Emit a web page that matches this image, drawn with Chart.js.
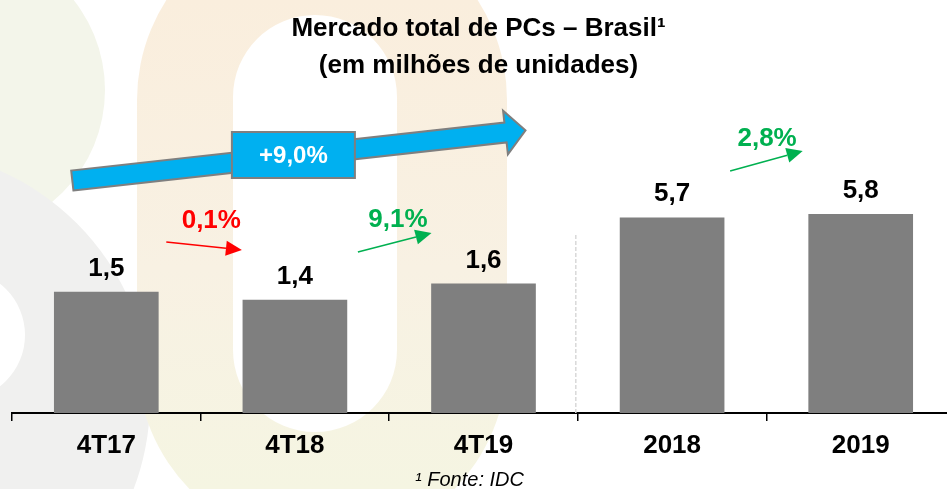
<!DOCTYPE html>
<html>
<head>
<meta charset="utf-8">
<script src="https://cdn.jsdelivr.net/npm/chart.js@4.4.1/dist/chart.umd.min.js"></script>
<style>
  html, body { margin: 0; padding: 0; overflow: hidden; background: #fff; }
  #wrap { width: 960px; height: 489px; position: relative; }
</style>
</head>
<body>
<div id="wrap"><canvas id="grafico"></canvas></div>
<script>
const categorias = ['4T17', '4T18', '4T19', '2018', '2019'];
const trimestrais = [1.5, 1.4, 1.6, null, null];
const anuais = [null, null, null, 5.7, 5.8];
const variacoes = ['0,1%', '9,1%', '2,8%'];
const crescimentoTotal = '+9,0%';
const titulo = ['Mercado total de PCs \u2013 Brasil\u00b9', '(em milh\u00f5es de unidades)'];
const fonte = '\u00b9 Fonte: IDC';

const FAMILIA = '"Liberation Sans", Arial, Helvetica, sans-serif';
const fmt = v => v.toFixed(1).replace('.', ',');

function seta(ctx, x1, y1, x2, y2, cor) {
    let ang = Math.atan2(y2 - y1, x2 - x1);
    let comp = 16, meia = 7.5;
    let bx = x2 - comp * Math.cos(ang), by = y2 - comp * Math.sin(ang);
    ctx.strokeStyle = cor;
    ctx.fillStyle = cor;
    ctx.lineWidth = 1.6;
    ctx.beginPath();
    ctx.moveTo(x1, y1);
    ctx.lineTo(bx, by);
    ctx.stroke();
    ctx.beginPath();
    ctx.moveTo(x2, y2);
    ctx.lineTo(bx - meia * Math.sin(ang), by + meia * Math.cos(ang));
    ctx.lineTo(bx + meia * Math.sin(ang), by - meia * Math.cos(ang));
    ctx.closePath();
    ctx.fill();
}

// marca d'agua de fundo
const fundo = {
    id: 'fundo',
    beforeDraw(chart) {
        let ctx = chart.ctx;
        ctx.save();
        ctx.fillStyle = '#fff';
        ctx.fillRect(0, 0, chart.width, chart.height);

        ctx.fillStyle = '#F3F5EA';
        ctx.beginPath();
        ctx.arc(-40, 90, 145, 0, Math.PI * 2);
        ctx.fill();
        ctx.fillStyle = '#F0F0EF';
        ctx.beginPath();
        ctx.arc(-100, 400, 250, 0, Math.PI * 2);
        ctx.fill();
        ctx.fillStyle = '#fff';
        ctx.beginPath();
        ctx.arc(-40, 335, 65, 0, Math.PI * 2);
        ctx.fill();

        let grad = ctx.createLinearGradient(0, 0, 0, 489);
        grad.addColorStop(0, '#FAEEDD');
        grad.addColorStop(0.55, '#F8F1E3');
        grad.addColorStop(1, '#F5F5E2');
        ctx.fillStyle = grad;
        ctx.beginPath();
        ctx.roundRect(137, -85, 370, 630, 185);
        ctx.roundRect(233, 15, 164, 417, 82);
        ctx.fill('evenodd');
        ctx.restore();
    }
};

// titulo, rotulos, setas e nota
const anotacoes = {
    id: 'anotacoes',
    afterDraw(chart) {
        let ctx = chart.ctx;
        let x = chart.scales.x;
        let area = chart.chartArea;
        let c = i => x.getPixelForValue(i);
        ctx.save();

        ctx.fillStyle = '#000';
        ctx.textAlign = 'center';
        ctx.textBaseline = 'alphabetic';
        ctx.font = 'bold 26px ' + FAMILIA;
        ctx.fillText(titulo[0], 478.5, 36);
        ctx.fillText(titulo[1], 478.5, 73);

        // separador entre trimestres e anos
        let sx = (c(2) + c(3)) / 2 - 2;
        ctx.strokeStyle = '#D9D9D9';
        ctx.lineWidth = 1.5;
        ctx.setLineDash([4, 2]);
        ctx.beginPath();
        ctx.moveTo(sx, 235);
        ctx.lineTo(sx, area.bottom);
        ctx.stroke();
        ctx.setLineDash([]);

        // valores sobre as barras
        ctx.fillStyle = '#000';
        ctx.font = 'bold 26px ' + FAMILIA;
        chart.data.datasets.forEach((ds, di) => {
            chart.getDatasetMeta(di).data.forEach((el, i) => {
                if (ds.data[i] == null) return;
                ctx.fillText(fmt(ds.data[i]), el.x, el.y - 16);
            });
        });

        // seta azul de crescimento
        let L = {x: c(0) - 34, y: 180.5};
        let B = {x: c(2) + 22, y: 132.5};
        let T = {x: c(2) + 42, y: 130.3};
        let dx = B.x - L.x, dy = B.y - L.y, len = Math.hypot(dx, dy);
        let nx = -dy / len, ny = dx / len;
        let pts = [
            [L.x + nx * 10, L.y + ny * 10], [B.x + nx * 10, B.y + ny * 10],
            [B.x + nx * 22, B.y + ny * 22], [T.x, T.y],
            [B.x - nx * 22, B.y - ny * 22], [B.x - nx * 10, B.y - ny * 10],
            [L.x - nx * 10, L.y - ny * 10]
        ];
        ctx.beginPath();
        pts.forEach((p, k) => k ? ctx.lineTo(p[0], p[1]) : ctx.moveTo(p[0], p[1]));
        ctx.closePath();
        ctx.fillStyle = '#00B0F0';
        ctx.fill();
        ctx.strokeStyle = '#7F7F7F';
        ctx.lineWidth = 2;
        ctx.stroke();
        let bxc = c(1) - 1.5;
        ctx.fillRect(bxc - 61.5, 132, 123, 46);
        ctx.strokeRect(bxc - 61.5, 132, 123, 46);
        ctx.fillStyle = '#fff';
        ctx.font = 'bold 24px ' + FAMILIA;
        ctx.textBaseline = 'middle';
        ctx.fillText(crescimentoTotal, bxc, 156);

        // variacoes
        ctx.textBaseline = 'alphabetic';
        ctx.font = 'bold 26px ' + FAMILIA;
        ctx.fillStyle = '#FF0000';
        ctx.fillText(variacoes[0], c(0) + 105, 228);
        seta(ctx, c(0) + 60, 242, c(1) - 53, 250, '#FF0000');

        ctx.fillStyle = '#00B050';
        ctx.fillText(variacoes[1], c(1) + 103, 227);
        seta(ctx, c(1) + 63, 252, c(2) - 52, 233, '#00B050');

        ctx.fillStyle = '#00B050';
        ctx.fillText(variacoes[2], c(3) + 95, 146);
        seta(ctx, c(3) + 58, 171, c(4) - 58, 151, '#00B050');

        // fonte
        ctx.fillStyle = '#000';
        ctx.font = 'italic 20px ' + FAMILIA;
        ctx.fillText(fonte, 469.5, 486);
        ctx.restore();
    }
};

new Chart(document.getElementById('grafico'), {
    type: 'bar',
    data: {
        labels: categorias,
        datasets: [
            {data: trimestrais, yAxisID: 'yq', backgroundColor: '#7F7F7F'},
            {data: anuais, yAxisID: 'ya', backgroundColor: '#7F7F7F'}
        ]
    },
    options: {
        responsive: true,
        maintainAspectRatio: false,
        animation: false,
        layout: {padding: {top: 100, left: 12, right: 5, bottom: 0}},
        datasets: {bar: {grouped: false, categoryPercentage: 1, barPercentage: 0.555}},
        plugins: {legend: {display: false}, tooltip: {enabled: false}, title: {display: false}},
        scales: {
            x: {
                afterFit: s => { s.height = 76 },
                grid: {drawOnChartArea: false, drawTicks: true, tickLength: 8, color: '#000', lineWidth: 1.5},
                border: {display: true, color: '#000', width: 2},
                ticks: {color: '#000', padding: 9, font: {family: FAMILIA, size: 26, weight: 'bold', lineHeight: 1.2}}
            },
            yq: {display: false, min: 0, max: 3.87},
            ya: {display: false, min: 0, max: 9.125}
        }
    },
    plugins: [fundo, anotacoes]
});
</script>
</body>
</html>
